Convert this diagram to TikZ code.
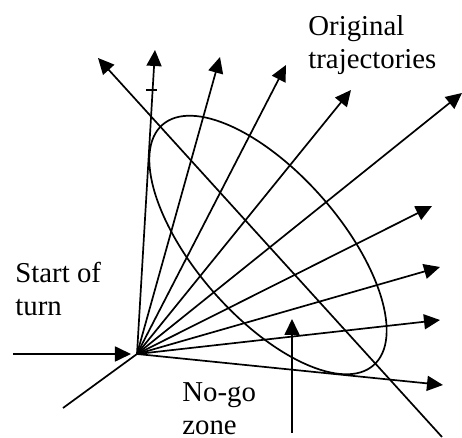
\documentclass[tikz,border=0pt]{standalone}
\usepackage{fontspec}
\setmainfont{Liberation Serif}
\usetikzlibrary{arrows.meta,shapes.geometric}

\begin{document}
\begin{tikzpicture}[
  x=0.5pt, y=-0.5pt,
  traj/.style={-{Triangle[length=8pt, width=7.5pt]}, line width=0.85pt},
  plain/.style={line width=0.85pt},
  txt/.style={inner sep=0pt, anchor=north west, align=left,
    font=\fontsize{14.4}{16.5}\selectfont}
]
\useasboundingbox (0,0) rectangle (462,438);

% Start of turn
\coordinate (turn) at (137,354);
\coordinate (in) at (13,354);
\coordinate (tail) at (63,408);

% Original trajectories
\coordinate (t1) at (155,50);
\coordinate (t2) at (220,57);
\coordinate (t3) at (286,65);
\coordinate (t4) at (351,90);
\coordinate (t5) at (462,93);
\coordinate (t6) at (432,206);
\coordinate (t7) at (440,267);
\coordinate (t8) at (440,320);
\coordinate (t9) at (443,385);

% Tick
\coordinate (tickl) at (146,90);
\coordinate (tickr) at (157,90);

% Crossing line
\coordinate (cross1) at (442,437);
\coordinate (cross2) at (98,58);

% No-go zone
\node[draw, ellipse, plain, inner sep=0pt, minimum width=160pt,
  minimum height=72pt, rotate=-48.7] (zone) at (268,245) {};
\coordinate (nogo) at (292,433);
\coordinate (nogotip) at (292,319);

% Labels
\node[txt] (orig) at (308,15) {Original\\trajectories};
\node[txt] (start) at (15,262) {Start of\\turn};
\node[txt] (nogolabel) at (182,382) {No-go\\zone};

\draw[traj, shorten >=3pt] (in) -- (turn);
\draw[plain] (turn) -- (tail);
\draw[traj] (turn) -- (t1);
\draw[traj] (turn) -- (t2);
\draw[traj] (turn) -- (t3);
\draw[traj] (turn) -- (t4);
\draw[traj] (turn) -- (t5);
\draw[traj] (turn) -- (t6);
\draw[traj] (turn) -- (t7);
\draw[traj] (turn) -- (t8);
\draw[traj] (turn) -- (t9);
\draw[plain] (tickl) -- (tickr);
\draw[traj] (cross1) -- (cross2);
\draw[traj] (nogo) -- (nogotip);

\end{tikzpicture}
\end{document}
